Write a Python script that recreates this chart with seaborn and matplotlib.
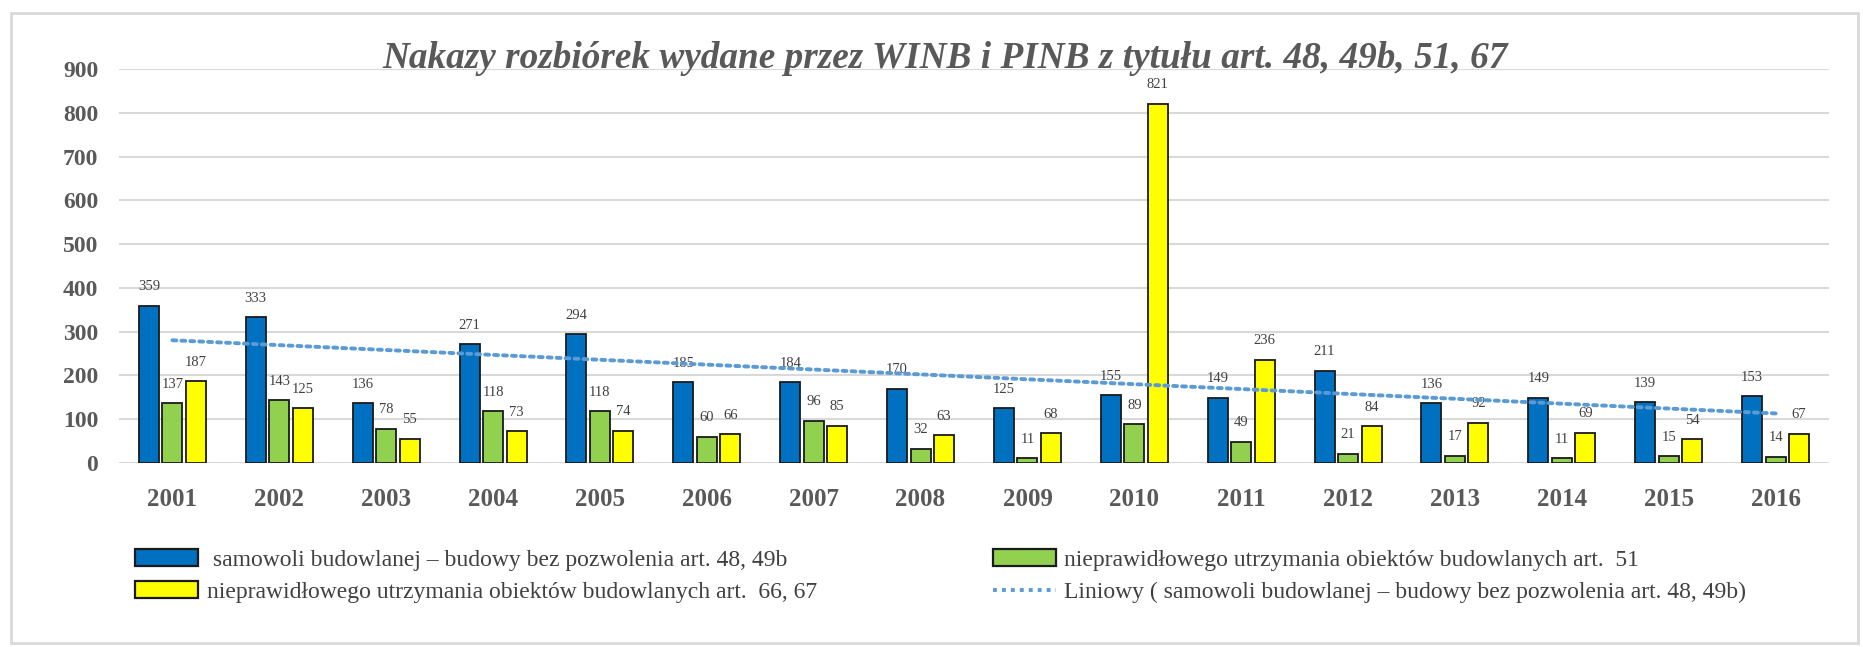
import numpy as np
import pandas as pd
import seaborn as sns
import matplotlib.pyplot as plt
from matplotlib.lines import Line2D
from matplotlib.patches import Patch, Rectangle

lata = [str(r) for r in range(2001, 2017)]
samowola = [359, 333, 136, 271, 294, 185, 184, 170, 125, 155, 149, 211, 136, 149, 139, 153]
art51 = [137, 143, 78, 118, 118, 60, 96, 32, 11, 89, 49, 21, 17, 11, 15, 14]
art66_67 = [187, 125, 55, 73, 74, 66, 85, 63, 68, 821, 236, 84, 92, 69, 54, 67]

serie = [
    " samowoli budowlanej – budowy bez pozwolenia art. 48, 49b",
    "nieprawidłowego utrzymania obiektów budowlanych art.  51",
    "nieprawidłowego utrzymania obiektów budowlanych art.  66, 67",
]
kolory = ["#0070C0", "#92D050", "#FFFF00"]
trend_label = "Liniowy ( samowoli budowlanej – budowy bez pozwolenia art. 48, 49b)"
tytul = "Nakazy rozbiórek wydane przez WINB i PINB z tytułu art. 48, 49b, 51, 67"

df = pd.DataFrame({
    "rok": lata * 3,
    "wartosc": samowola + art51 + art66_67,
    "seria": [serie[0]] * 16 + [serie[1]] * 16 + [serie[2]] * 16,
})

sns.set_theme(style="white")
plt.rcParams["font.family"] = ["Liberation Serif", "DejaVu Serif"]

W, H = 1863, 647
fig = plt.figure(figsize=(W / 100, H / 100), dpi=100)
ax = fig.add_axes([119 / W, 1 - 463 / H, (1829 - 119) / W, (463 - 69) / H])

sns.barplot(data=df, x="rok", y="wartosc", hue="seria", palette=kolory,
            saturation=1, edgecolor="#1a1a1a", linewidth=1.3, width=0.66, gap=0.15,
            legend=False, ax=ax, zorder=3)

for cont in ax.containers:
    ax.bar_label(cont, padding=9, fontsize=10.5, color="#404040")

# linia trendu (liniowa) dla serii samowoli
x = np.arange(len(lata))
a, b = np.polyfit(x, samowola, 1)
ax.plot(x, a * x + b, color="#5B9BD5", linestyle=(0, (1, 1.3)), linewidth=2.8,
        dash_capstyle="round", zorder=4)

ax.set_ylim(0, 900)
ax.set_xlim(-0.5, len(lata) - 0.5)
ax.set_yticks(range(0, 901, 100))
ax.yaxis.grid(True, color="#D9D9D9", linewidth=1.5)
ax.set_axisbelow(True)
for s in ax.spines.values():
    s.set_visible(False)
ax.set_xlabel("")
ax.set_ylabel("")
ax.tick_params(axis="y", length=0, pad=15, labelsize=17, labelcolor="#595959")
ax.tick_params(axis="x", length=0, pad=18, labelsize=18, labelcolor="#595959")
for t in ax.get_yticklabels() + ax.get_xticklabels():
    t.set_fontweight("bold")

fig.text(945 / W, 1 - 68 / H, tytul, ha="center", va="baseline", fontsize=26.8,
         fontweight="bold", fontstyle="italic", color="#595959")

handles = [
    Patch(facecolor=kolory[0], edgecolor="#1a1a1a", linewidth=1.6),
    Patch(facecolor=kolory[2], edgecolor="#1a1a1a", linewidth=1.6),
    Patch(facecolor=kolory[1], edgecolor="#1a1a1a", linewidth=1.6),
    Line2D([], [], color="#5B9BD5", linestyle=(0, (1, 1.3)), linewidth=2.8),
]
labels = [serie[0], serie[2], serie[1], trend_label]
fig.legend(handles, labels, ncol=2, loc="upper left",
           bbox_to_anchor=(114 / W, 1 - 528 / H), frameon=False,
           fontsize=17, labelcolor="#404040", handlelength=2.67, handleheight=0.7,
           handletextpad=0.35, columnspacing=7.45, labelspacing=0.45)

fig.patches.append(Rectangle((11 / W, 4 / H), (1858 - 11) / W, (634 - 4) / H,
                             transform=fig.transFigure, fill=False,
                             edgecolor="#D9D9D9", linewidth=2))

fig.savefig("out.png", dpi=100)
